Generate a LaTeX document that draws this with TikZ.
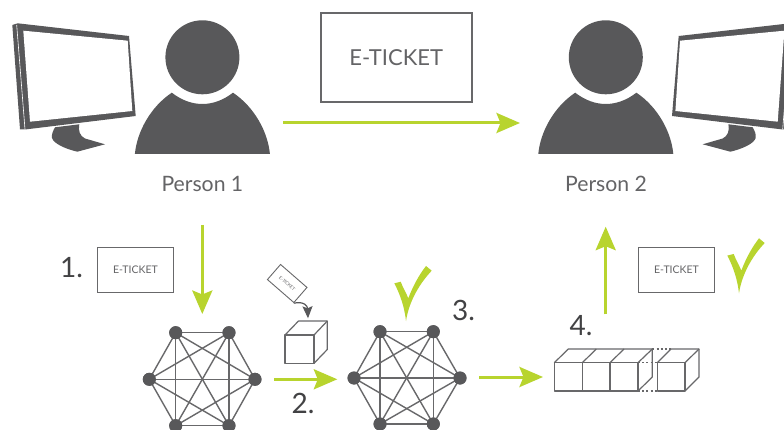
\documentclass[tikz,border=0pt]{standalone}
\usepackage{fontspec}
\setmainfont{Lato}
\usetikzlibrary{arrows.meta}
\definecolor{lime}{RGB}{184,212,46}
\definecolor{dark}{RGB}{88,88,90}
\definecolor{edge}{RGB}{104,104,106}
\definecolor{label}{RGB}{100,100,102}
\definecolor{numtxt}{RGB}{66,66,68}
\tikzset{
  x=1pt,y=-1pt,
  flow/.style={draw=lime,line width=3pt,-{Stealth[length=23.5pt,width=20pt,inset=4pt]}},
  linkline/.style={draw=edge,line width=1.4pt},
  netdot/.style={circle,fill=dark,minimum size=13pt,inner sep=0pt},
  ticketbox/.style={draw=edge,line width=1.3pt,fill=white,inner sep=0pt,text=label,font=\fontsize{10.5}{12}\selectfont,minimum width=75.5pt,minimum height=44.5pt},
  numlabel/.style={anchor=base west,inner sep=0pt,text=numtxt,font=\fontsize{28}{30}\selectfont},
  personlabel/.style={anchor=base,inner sep=0pt,text=label,font=\fontsize{21.2}{24}\selectfont},
  cubeline/.style={draw=edge,line width=1.2pt,line join=round},
  monitorpic/.pic={
    \fill[dark] (17.7,23.3)--(129,36)--(135.7,116)--(26.7,129.3)--(20,129.3)--(12.3,25)--cycle;
    \draw[white,line width=0.6pt] (16.7,25)--(25,129.3);
    \fill[white] (23.3,30.7)--(127.7,40.7)--(132.3,111)--(30,121.7)--cycle;
    \fill[dark] (55,127.3)--(79.3,124.3) .. controls (78,131) and (80,136) .. (85,138.5)--(105,144.3)--(77.3,151.7) .. controls (66,149) and (54,144) .. (52,138) .. controls (51.5,134) and (53,131) .. (55,127.3)--cycle;
  },
  personpic/.pic={
    \fill[dark] (0,57.3) circle[radius=37];
    \fill[dark] (-67.5,154) .. controls (-65.5,132) and (-52,107) .. (-30.6,92.7)
      .. controls (-20.5,100.5) and (-10,104) .. (0,104)
      .. controls (10,104) and (20.5,100.5) .. (30.6,92.7)
      .. controls (52,107) and (65.5,132) .. (67.5,154)--cycle;
  },
  checkpic/.pic={
    \fill[lime] (0,0) .. controls (-1.5,-14) and (-6,-27) .. (-11.7,-37.7)
      --(-5.3,-39.3) .. controls (-3,-33) and (0.5,-27.5) .. (2.3,-22.7)
      .. controls (7,-35) and (13,-46) .. (20,-55)
      --(25.7,-50.3) .. controls (14,-38) and (3,-20) .. (0,0)--cycle;
  }
}
\begin{document}
\begin{tikzpicture}
\useasboundingbox (0,0) rectangle (784,430);
\clip (0,0) rectangle (784,430);
\fill[white] (0,0) rectangle (784,430);
% people and monitors
\pic at (0,0) {monitorpic};
\pic[xscale=-1] at (807.7,0) {monitorpic};
\pic at (202.4,0) {personpic};
\pic at (605.8,0) {personpic};
\node[personlabel] (p1) at (202.4,191.7) {Person 1};
\node[personlabel] (p2) at (606,191.7) {Person 2};
% tickets
\node[ticketbox,line width=2pt,minimum width=151pt,minimum height=89pt,font=\fontsize{22}{24}\selectfont] (bigticket) at (396.2,57.5) {E-TICKET};
\node[ticketbox] (ticket1) at (135.5,270) {E-TICKET};
\node[ticketbox] (ticket2) at (676.5,270) {E-TICKET};
\node[ticketbox,line width=0.9pt,rotate=-41,minimum width=35pt,minimum height=20pt,font=\fontsize{4.6}{5}\selectfont] (ticket3) at (287.2,283.5) {E-TICKET};
% top arrow
\coordinate (a0) at (283,123);
\coordinate (a1) at (520,123);
\draw[flow] (a0)--(a1);
% arrow 1
\coordinate (b0) at (202.3,225);
\coordinate (b1) at (202.3,314);
\draw[flow] (b0)--(b1);
% network 1
\node[netdot] (n1) at (175.7,332.7) {};
\node[netdot] (n2) at (229,332.7) {};
\node[netdot] (n3) at (255,379.3) {};
\node[netdot] (n4) at (229,425.7) {};
\node[netdot] (n5) at (175.7,425.7) {};
\node[netdot] (n6) at (149.3,379.3) {};
\foreach \a/\b in {1/2,1/3,1/4,1/5,1/6,2/3,2/4,2/5,2/6,3/4,3/5,3/6,4/5,4/6,5/6}
  \draw[linkline] (n\a.center)--(n\b.center);
\foreach \a in {1,...,6} \fill[dark] (n\a) circle[radius=6.5];
% network 2
\node[netdot] (m1) at (380,331.7) {};
\node[netdot] (m2) at (433.3,331.7) {};
\node[netdot] (m3) at (460,378) {};
\node[netdot] (m4) at (433.3,424) {};
\node[netdot] (m5) at (380,424) {};
\node[netdot] (m6) at (354,378) {};
\foreach \a/\b in {1/2,1/3,1/4,1/5,1/6,2/3,2/4,2/5,2/6,3/4,3/5,3/6,4/5,4/6,5/6}
  \draw[linkline] (m\a.center)--(m\b.center);
\foreach \a in {1,...,6} \fill[dark] (m\a) circle[radius=6.5];
% single cube and small arrow
\draw[cubeline] (285,335) rectangle (314,363.3);
\draw[cubeline] (285,335)--(298.5,321)--(327.3,321)--(327.3,349.5)--(314,363.3);
\draw[cubeline] (314,335)--(327.3,321);
\coordinate (c1) at (308,318.3);
\draw[draw=dark,line width=1.2pt,-{Stealth[length=12pt,width=10pt,inset=2pt]}] (ticket3.south east) .. controls (304,301) and (307.5,306) .. (c1);
% arrows 2 and 3, up
\coordinate (d0) at (274,379.3);
\coordinate (d1) at (337.3,379.3);
\draw[flow] (d0)--(d1);
\coordinate (e0) at (479,377);
\coordinate (e1) at (543,377);
\draw[flow] (e0)--(e1);
\coordinate (f0) at (605.7,314.3);
\coordinate (f1) at (605.7,226.7);
\draw[flow] (f0)--(f1);
% checks
\pic at (406,321) {checkpic};
\pic at (739,293.3) {checkpic};
% number labels
\node[numlabel] (l1) at (60,278) {1.};
\node[numlabel] (l2) at (291.5,413) {2.};
\node[numlabel] (l3) at (452,320.7) {3.};
\node[numlabel] (l4) at (569.5,335) {4.};
% chain of cubes
\draw[cubeline] (554.3,362.7) rectangle (638,391);
\draw[cubeline] (582.3,362.7)--(582.3,391) (610,362.7)--(610,391);
\draw[cubeline] (554.3,362.7)--(568.3,349)--(652.3,349)--(652.3,377)--(638,391);
\draw[cubeline] (582.3,362.7)--(596.3,349) (610,362.7)--(624,349) (638,362.7)--(652.3,349);
\draw[cubeline] (657.3,362.7) rectangle (685,391);
\draw[cubeline] (657.3,362.7)--(671,349)--(699,349)--(699,377)--(685,391);
\draw[cubeline] (685,362.7)--(699,349);
\draw[draw=edge,line width=1.2pt,dash pattern=on 2pt off 2.2pt] (652.3,349)--(671,349) (638,362.7)--(657.3,362.7) (638,391)--(657.3,391);
\end{tikzpicture}
\end{document}
